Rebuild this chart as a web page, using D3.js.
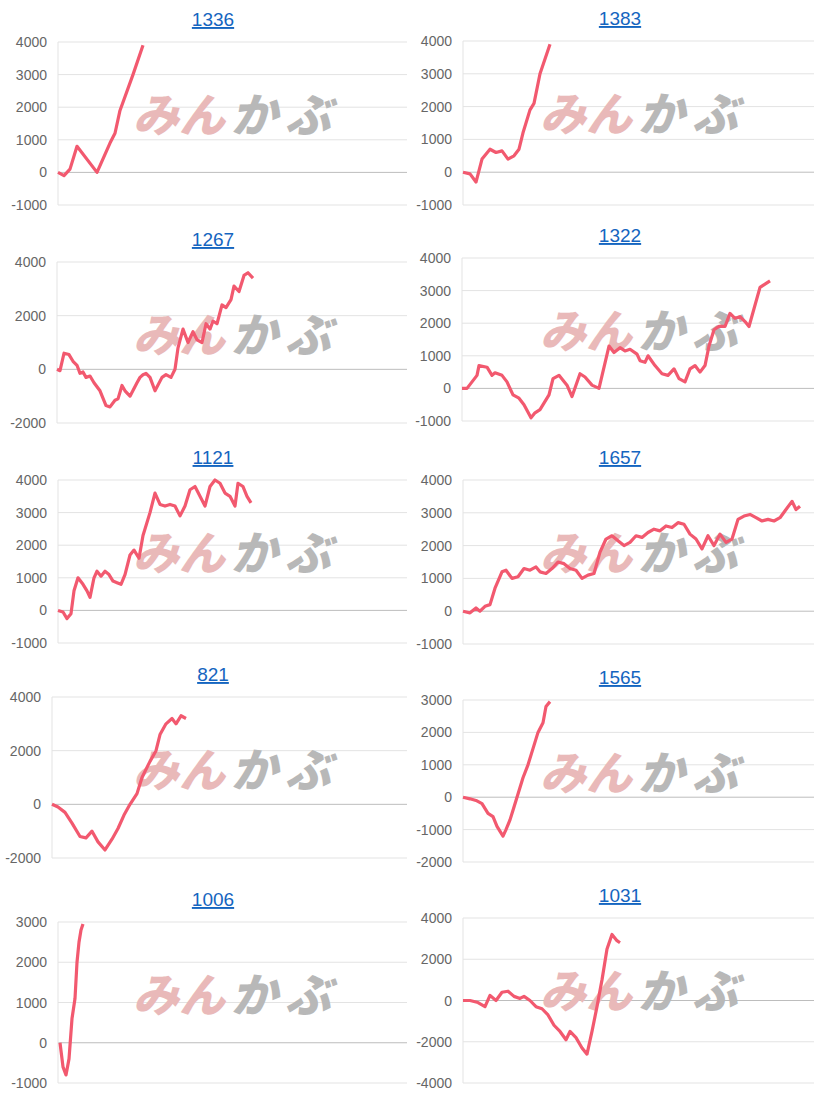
<!DOCTYPE html>
<html><head><meta charset="utf-8">
<script src="https://cdn.jsdelivr.net/npm/d3@7"></script>
<style>body{margin:0;background:#fff}svg{display:block}</style>
</head><body><svg id="c" width="814" height="1100"></svg>
<script>
const titles = ["1336","1383","1267","1322","1121","1657","821","1565","1006","1031"];
const yTicks = [
  [-1000,0,1000,2000,3000,4000],[-1000,0,1000,2000,3000,4000],
  [-2000,0,2000,4000],[-1000,0,1000,2000,3000,4000],
  [-1000,0,1000,2000,3000,4000],[-1000,0,1000,2000,3000,4000],
  [-2000,0,2000,4000],[-2000,-1000,0,1000,2000,3000],
  [-1000,0,1000,2000,3000],[-4000,-2000,0,2000,4000]];
const s1336 = [[0,0],[6,-100],[12,100],[19,800],[39,0],[52,900],[57,1200],[62,1900],[75,3000],[85,3900]];
const s1383 = [[0,0],[7,-50],[13,-300],[19,400],[27,700],[33,600],[39,650],[45,400],[51,500],[56,700],[60,1200],[67,1900],[71,2100],[77,3000],[87,3900]];
const s1267 = [[0,0],[3,-50],[7,600],[12,550],[16,300],[20,150],[23,-150],[26,-100],[29,-300],[33,-250],[37,-500],[43,-800],[49,-1350],[53,-1400],[58,-1150],[61,-1100],[65,-600],[68,-800],[73,-1000],[80,-500],[83,-300],[86,-200],[89,-150],[93,-300],[98,-800],[105,-300],[109,-200],[114,-300],[118,0],[121,800],[126,1500],[131,1000],[136,1400],[140,1100],[145,1000],[149,1700],[153,1500],[156,1800],[160,1700],[165,2400],[169,2300],[174,2600],[177,3100],[182,2900],[187,3500],[191,3600],[196,3400]];
const s1322 = [[0,0],[5,0],[15,400],[17,700],[25,650],[30,400],[33,480],[40,400],[45,200],[51,-200],[57,-300],[62,-500],[69,-900],[73,-750],[78,-650],[87,-200],[91,300],[97,400],[105,100],[110,-250],[118,450],[123,350],[130,100],[137,0],[147,1300],[152,1100],[158,1250],[163,1150],[168,1200],[175,1050],[178,850],[183,800],[186,1000],[193,700],[200,450],[206,400],[212,600],[217,300],[223,200],[228,600],[233,700],[238,500],[243,700],[247,1300],[252,1800],[257,1900],[263,1900],[268,2300],[273,2150],[278,2200],[283,2050],[287,1900],[298,3100],[303,3200],[308,3300]];
const s1121 = [[0,0],[5,-50],[9,-250],[13,-100],[16,600],[20,1000],[25,800],[29,600],[32,400],[36,1000],[39,1200],[43,1050],[47,1200],[51,1100],[55,900],[59,850],[63,800],[67,1100],[72,1700],[76,1850],[81,1600],[85,2300],[92,3000],[97,3600],[102,3250],[107,3200],[112,3250],[117,3200],[122,2900],[127,3200],[132,3700],[137,3800],[142,3500],[147,3200],[152,3800],[157,4000],[162,3900],[167,3600],[172,3500],[177,3200],[180,3900],[185,3800],[189,3500],[193,3300]];
const s1657 = [[0,0],[7,-50],[13,100],[17,0],[22,150],[27,200],[32,700],[39,1200],[43,1250],[49,1000],[55,1050],[61,1300],[67,1250],[73,1350],[77,1200],[83,1150],[89,1300],[95,1500],[101,1450],[107,1300],[113,1250],[119,1000],[125,1100],[131,1150],[137,1800],[143,2200],[149,2300],[155,2150],[161,2000],[167,2100],[173,2300],[179,2250],[185,2400],[191,2500],[197,2450],[203,2600],[209,2550],[215,2700],[221,2650],[227,2350],[233,2200],[239,1900],[245,2300],[251,2000],[257,2350],[263,2100],[269,2200],[275,2800],[281,2900],[287,2950],[293,2850],[299,2750],[305,2800],[311,2750],[317,2850],[323,3100],[329,3350],[333,3100],[337,3200]];
const s821 = [[0,0],[6,-100],[13,-300],[20,-700],[28,-1200],[34,-1250],[40,-1000],[46,-1400],[53,-1700],[60,-1300],[66,-900],[72,-400],[78,0],[85,400],[90,1000],[98,1600],[104,2000],[108,2600],[114,3000],[120,3200],[124,3000],[129,3300],[134,3200]];
const s1565 = [[0,0],[7,-50],[13,-100],[19,-200],[25,-500],[30,-600],[34,-900],[40,-1200],[43,-1000],[47,-700],[50,-400],[55,100],[60,600],[65,1000],[70,1500],[75,2000],[80,2300],[83,2800],[87,2950]];
const s1006 = [[2,0],[5,-600],[8,-800],[11,-400],[14,600],[17,1100],[19,2000],[21,2500],[23,2800],[25,2950]];
const s1031 = [[0,0],[7,0],[15,-100],[22,-300],[27,250],[33,0],[39,400],[45,450],[51,200],[57,100],[61,200],[67,0],[73,-300],[79,-400],[85,-700],[91,-1200],[97,-1500],[103,-1900],[107,-1500],[113,-1800],[119,-2300],[124,-2600],[129,-1500],[134,-300],[139,1000],[144,2500],[149,3200],[154,2900],[157,2800]];
const series = [s1336,s1383,s1267,s1322,s1121,s1657,s821,s1565,s1006,s1031];

const svg = d3.select("#c");
const font = "Arial, 'Liberation Sans', sans-serif";
const layout = [
 [58,407,42,205],[463,814,41,205],
 [57,407,262,423],[462,814,258,421],
 [58,407,480,643],[463,814,480,644],
 [52,407,697,858],[463,814,700,862],
 [58,407,922,1083],[463,814,918,1083]];
const sk = Math.tan(14*Math.PI/180);
series.forEach((data,i)=>{
  const [x0,x1,yt,yb] = layout[i];
  const t = yTicks[i];
  const x = d3.scaleLinear().domain([0,350]).range([x0,x0+350]);
  const y = d3.scaleLinear().domain([t[0],t[t.length-1]]).range([yb,yt]);
  const g = svg.append("g");
  const colC = i%2===0 ? 213 : 620;
  g.append("text").attr("x",colC).attr("y",yt-16).attr("text-anchor","middle")
    .attr("font-family",font).attr("font-size",19).attr("fill","#1565c0")
    .attr("text-decoration","underline").text(titles[i]);
  t.forEach(v=>{
    g.append("line").attr("x1",x0).attr("x2",x1).attr("y1",y(v)).attr("y2",y(v))
      .attr("stroke", v===0?"#bdbdbd":"#e3e3e3").attr("stroke-width",1);
    g.append("text").attr("x",x0-11).attr("y",y(v)+5).attr("text-anchor","end")
      .attr("font-family",font).attr("font-size",14).attr("fill","#666").text(v);
  });
  g.append("line").attr("x1",x0).attr("x2",x0).attr("y1",yt).attr("y2",yb).attr("stroke","#e3e3e3");
  const wx = (i%2===0?0:407)+133, wy = yt+90;
  g.append("text").attr("x",wx).attr("y",wy).attr("font-family","'Noto Sans CJK JP'")
    .attr("font-weight","900").attr("font-size",46).attr("textLength",92)
    .attr("fill","#e9b9b9").attr("transform","skewX(-14)").attr("dx",wy*sk).text("みん");
  g.append("text").attr("x",wx+98).attr("y",wy).attr("font-family","'Noto Sans CJK JP'")
    .attr("font-weight","900").attr("font-size",46).attr("textLength",100)
    .attr("fill","#b8b8b8").attr("transform","skewX(-14)").attr("dx",wy*sk).text("かぶ");
  const line = d3.line().x(d=>x(d[0])).y(d=>y(d[1]));
  g.append("path").datum(data).attr("d",line).attr("fill","none")
    .attr("stroke","#f2596f").attr("stroke-width",3.2).attr("stroke-linejoin","round");
});
</script></body></html>
